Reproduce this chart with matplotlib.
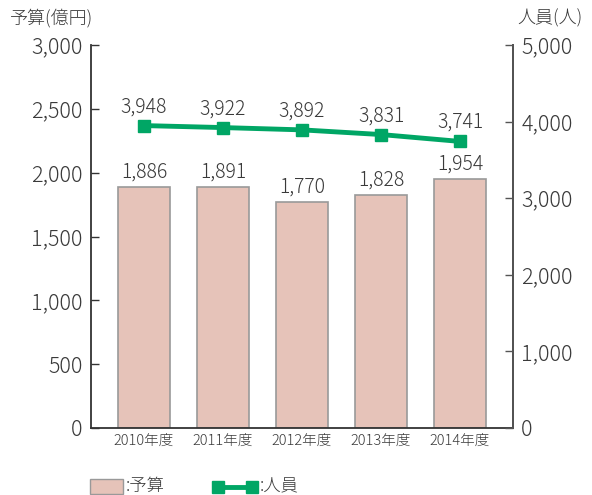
import matplotlib
matplotlib.use("Agg")
import matplotlib.pyplot as plt
from matplotlib.patches import Rectangle
from matplotlib.lines import Line2D

plt.rcParams['font.family'] = ['Noto Sans CJK JP', 'DejaVu Sans']
plt.rcParams['font.weight'] = 'light'

categories = ['2010年度', '2011年度', '2012年度', '2013年度', '2014年度']
budget = [1886, 1891, 1770, 1828, 1954]
staff = [3948, 3922, 3892, 3831, 3741]
left_ticks = [0, 500, 1000, 1500, 2000, 2500, 3000]
right_ticks = [0, 1000, 2000, 3000, 4000, 5000]

txt = '#3a3a3a'
green = '#00a665'
fig = plt.figure(figsize=(5.92, 4.95), dpi=100)
ax = fig.add_axes([91/592, 1-428/495, 422/592, 383/495])
x = list(range(len(categories)))
ax.bar(x, budget, width=0.65, color='#e6c3b9', edgecolor='#999999', linewidth=1.2, zorder=2)
ax.set_xlim(-0.67, 4.67)
ax.set_ylim(0, 3000)
ax.set_yticks(left_ticks)
ax.set_yticklabels([f'{v:,}' for v in left_ticks], fontsize=15.5, color=txt)
ax.set_xticks(x)
ax.set_xticklabels(categories, fontsize=10.5, color=txt)
ax.tick_params(axis='x', length=0, pad=4)
ax.tick_params(axis='y', direction='in', length=6, width=1, color='#333333', pad=6)
ax.spines['top'].set_visible(False)
for s in ['left', 'bottom', 'right']:
    ax.spines[s].set_color('#333333')
    ax.spines[s].set_linewidth(1.3)
for xi, v in zip(x, budget):
    ax.text(xi, v + 35, f'{v:,}', ha='center', va='bottom', fontsize=14, color=txt)

ax2 = ax.twinx()
ax2.set_ylim(0, 5000)
ax2.set_yticks(right_ticks)
ax2.set_yticklabels([f'{v:,}' for v in right_ticks], fontsize=15.5, color=txt)
ax2.tick_params(axis='y', direction='in', length=6, width=1, color='#555555', pad=6)
for s in ['top', 'left', 'bottom']:
    ax2.spines[s].set_visible(False)
ax2.spines['right'].set_color('#555555')
ax2.spines['right'].set_linewidth(1.3)
ax2.plot(x, staff, color=green, linewidth=3.5, marker='s', markersize=8.5, zorder=3)
for xi, v in zip(x, staff):
    ax2.text(xi, v + 110, f'{v:,}', ha='center', va='bottom', fontsize=14, color=txt)

fig.text(10/592, 1-18/495, '予算(億円)', fontsize=13, color=txt, va='center', ha='left')
fig.text(517/592, 1-18/495, '人員(人)', fontsize=13, color=txt, va='center', ha='left')

# legend
fig.patches.append(Rectangle((90/592, 1-494/495), 33/592, 15/495, transform=fig.transFigure,
                             facecolor='#e6c3b9', edgecolor='#999999', linewidth=1))
fig.text(126/592, 1-486/495, ':予算', fontsize=12.5, color=txt, va='center', ha='left')
fig.lines.append(Line2D([218/592, 252/592], [1-487/495, 1-487/495], transform=fig.transFigure,
                        color=green, linewidth=3.5, marker='s', markersize=8.5))
fig.text(260/592, 1-486/495, ':人員', fontsize=12.5, color=txt, va='center', ha='left')

fig.savefig('out.png', dpi=100)
